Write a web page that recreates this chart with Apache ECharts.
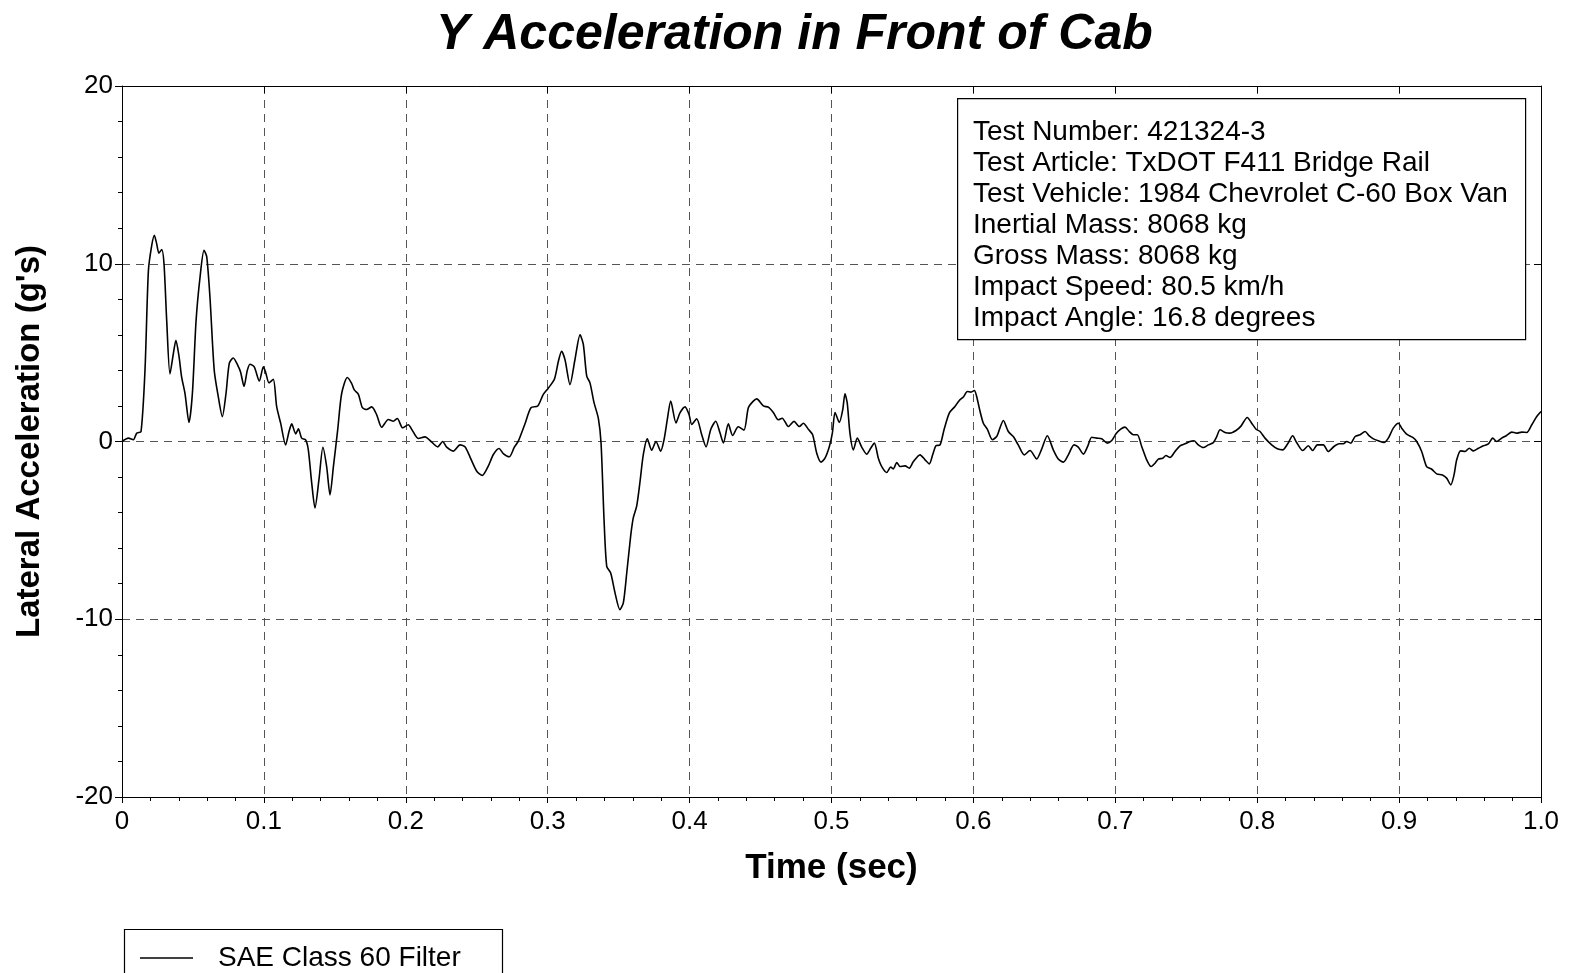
<!DOCTYPE html>
<html>
<head>
<meta charset="utf-8">
<script src="https://cdn.jsdelivr.net/npm/echarts@6/dist/echarts.min.js"></script>
<style>
html,body{margin:0;padding:0;background:#fff;}
#chart{width:1570px;height:973px;}
</style>
</head>
<body>
<div id="chart"></div>
<script>
// ---- data ----
const timeSec = [
0,0.0045,0.008,0.0104,0.0134,0.0162,0.0186,0.0209,0.0228,0.0245,0.026,0.028,0.0296,0.0315,0.0338,0.0362,0.038,0.0402,0.042,0.0444,
0.0472,0.0496,0.0522,0.055,0.0578,0.0597,0.062,0.065,0.0679,0.0707,0.0733,0.0756,0.0784,0.0815,0.0836,0.086,0.0883,0.0902,0.0932,0.0968,
0.0996,0.1012,0.1036,0.1066,0.109,0.1118,0.1153,0.1177,0.1196,0.1224,0.1243,0.1266,0.1294,0.1313,0.1337,0.136,0.1388,0.1416,0.1442,0.1466,
0.149,0.152,0.1548,0.1588,0.1618,0.1637,0.1666,0.1694,0.1724,0.176,0.1795,0.183,0.1877,0.1912,0.194,0.1978,0.2018,0.2042,0.2088,0.2135,
0.2183,0.2225,0.226,0.2288,0.2335,0.2382,0.2417,0.2452,0.25,0.2539,0.2581,0.2617,0.2657,0.2687,0.2729,0.2765,0.2793,0.284,0.2882,0.293,
0.2969,0.3004,0.3047,0.3075,0.3098,0.3122,0.3157,0.3192,0.3228,0.3251,0.3275,0.3298,0.3326,0.3357,0.3376,0.3397,0.3416,0.3444,0.3474,0.3509,
0.3533,0.3557,0.3585,0.3603,0.3627,0.365,0.3674,0.3702,0.3733,0.3763,0.3796,0.382,0.3843,0.3867,0.3904,0.3932,0.3968,0.3996,0.4015,0.405,
0.4085,0.4116,0.4149,0.4184,0.4214,0.4238,0.4273,0.4303,0.4343,0.4383,0.4414,0.4449,0.4473,0.452,0.4555,0.459,0.4625,0.4653,0.4696,0.4736,
0.4773,0.4802,0.4837,0.4867,0.4896,0.4926,0.4954,0.4985,0.5006,0.5025,0.5055,0.5079,0.5095,0.5111,0.513,0.5154,0.5182,0.5213,0.5248,0.5276,
0.5302,0.533,0.5354,0.5389,0.5417,0.5436,0.546,0.5483,0.5518,0.5548,0.5577,0.5624,0.5659,0.5689,0.5713,0.5736,0.5765,0.5793,0.583,0.587,
0.5901,0.5929,0.5957,0.5983,0.6007,0.6023,0.6047,0.607,0.6098,0.6134,0.6164,0.618,0.6211,0.6246,0.6281,0.6316,0.6359,0.6399,0.6446,0.6481,
0.6521,0.6563,0.6598,0.6634,0.6669,0.6709,0.6739,0.6775,0.6805,0.6834,0.6869,0.6904,0.6944,0.6975,0.7005,0.7038,0.7068,0.7099,0.7127,0.7155,
0.7186,0.7221,0.7252,0.728,0.7303,0.7334,0.7357,0.7386,0.7421,0.7456,0.7491,0.7526,0.7555,0.7585,0.762,0.7656,0.7691,0.7715,0.7738,0.7773,
0.7808,0.7851,0.7884,0.793,0.7961,0.7992,0.802,0.8055,0.8102,0.8142,0.818,0.8215,0.825,0.8278,0.8321,0.836,0.8391,0.8424,0.8466,0.8501,
0.8541,0.8577,0.8607,0.8631,0.8659,0.869,0.8725,0.876,0.879,0.8819,0.8854,0.8894,0.8924,0.8959,0.8995,0.9018,0.9053,0.9096,0.9124,0.9159,
0.9194,0.923,0.9265,0.9305,0.9335,0.9364,0.9387,0.9406,0.9434,0.9465,0.9495,0.9523,0.9559,0.9594,0.9629,0.966,0.9688,0.9723,0.9758,0.9794,
0.9829,0.9864,0.99,0.9935,0.997,1.0
];
const lateralAccel = [
0,0.19,0.1,0.47,0.56,4.0,9.6,11.0,11.6,11.1,10.6,10.8,10.0,6.8,3.8,4.95,5.7,4.77,3.64,2.7,
1.07,2.7,6.8,9.25,10.75,10.4,8.1,4.0,2.5,1.4,2.7,4.4,4.7,4.3,3.9,3.1,4.0,4.35,4.2,3.4,
4.2,3.9,3.3,3.5,1.96,1.03,-0.19,0.56,0.99,0.43,0.71,0.19,0.09,-0.47,-2.34,-3.74,-2.15,-0.32,-1.4,-3.0,
-1.4,0.65,2.7,3.6,3.27,2.9,2.65,1.9,1.8,1.95,1.5,0.8,1.24,1.14,1.29,0.77,0.94,0.68,0.17,0.26,
-0.04,-0.3,0,-0.32,-0.54,-0.19,-0.3,-0.86,-1.67,-1.91,-1.39,-0.73,-0.39,-0.68,-0.86,-0.32,0.02,1.0,1.9,2.0,
2.65,3.0,3.5,4.5,5.08,4.6,3.2,4.6,6.0,5.46,3.68,3.3,2.2,1.3,-0.1,-4.39,-7.02,-7.4,-8.5,-9.46,
-9.08,-7.4,-5.3,-4.3,-3.64,-2.3,-0.73,0.15,-0.49,0,-0.54,0.11,1.24,2.27,1.05,1.61,1.95,1.52,0.96,1.28,
0.39,-0.3,0.68,1.14,0.49,-0.08,0.99,0.34,0.83,0.64,1.9,2.27,2.4,2.0,1.93,1.63,1.22,1.31,0.84,1.13,
0.84,1.03,0.69,0.38,-0.66,-1.16,-0.94,-0.28,0.47,1.63,1.07,1.78,2.68,2.16,0.47,-0.47,0.19,-0.32,-0.71,-0.38,
-0.09,-0.94,-1.41,-1.74,-1.44,-1.54,-1.18,-1.41,-1.37,-1.5,-1.13,-0.75,-1.03,-1.26,-0.75,-0.24,-0.19,0.66,1.6,1.97,
2.31,2.5,2.81,2.78,2.87,2.53,1.69,1.03,0.69,0.1,0.28,0.6,1.18,0.56,0.28,-0.19,-0.75,-0.51,-0.98,-0.43,
0.32,-0.47,-0.99,-1.16,-0.75,-0.19,-0.32,-0.71,-0.28,0.24,0.19,0.15,-0.09,0.06,0.43,0.69,0.81,0.56,0.38,0.38,
-0.28,-1.03,-1.41,-1.22,-0.99,-0.94,-0.79,-0.9,-0.56,-0.24,-0.13,0,0.04,-0.19,-0.34,-0.19,-0.06,0.28,0.66,0.51,
0.47,0.62,0.85,1.35,1.03,0.69,0.56,0.19,-0.19,-0.41,-0.47,-0.13,0.32,-0.06,-0.51,-0.24,-0.51,-0.19,-0.19,-0.56,
-0.28,-0.13,-0.13,0,-0.09,0.28,0.38,0.56,0.32,0.15,0.04,-0.06,0.19,0.75,1.03,0.75,0.41,0.23,0,-0.56,
-1.41,-1.56,-1.82,-1.88,-2.06,-2.44,-1.88,-1.03,-0.53,-0.56,-0.38,-0.53,-0.38,-0.24,-0.13,0.19,0,0.19,0.34,0.53,
0.47,0.53,0.51,0.94,1.41,1.69
];
const chartTitle = 'Y Acceleration in Front of Cab';
const xAxisTitle = 'Time (sec)';
const yAxisTitle = "Lateral Acceleration (g's)";
const seriesName = 'SAE Class 60 Filter';
const infoLines = [
  'Test Number: 421324-3',
  'Test Article: TxDOT F411 Bridge Rail',
  'Test Vehicle: 1984 Chevrolet C-60 Box Van',
  'Inertial Mass: 8068 kg',
  'Gross Mass: 8068 kg',
  'Impact Speed: 80.5 km/h',
  'Impact Angle: 16.8 degrees'
];

const points = timeSec.map((t, i) => [t, lateralAccel[i]]);
const FONT = '"Liberation Sans", Arial, sans-serif';
const gridDash = { color: '#555', width: 1, type: [8, 6] };

const chart = echarts.init(document.getElementById('chart'), null, { renderer: 'canvas' });
chart.setOption({
  backgroundColor: '#fff',
  animation: false,
  title: {
    text: chartTitle,
    left: 436,
    top: 10,
    padding: 0,
    textStyle: { fontFamily: FONT, fontSize: 50, fontWeight: 'bold', fontStyle: 'italic', color: '#000' }
  },
  grid: { left: 122, right: 29, top: 86, bottom: 176, show: false },
  legend: {
    data: [{ name: seriesName, icon: 'rect' }],
    left: 140,
    top: 944,
    padding: 0,
    itemWidth: 53,
    itemHeight: 1.6,
    itemGap: 0,
    textStyle: { fontFamily: FONT, fontSize: 28, color: '#000', padding: [0, 0, 0, 20] }
  },
  xAxis: [{
    type: 'value', min: 0, max: 1, interval: 0.1,
    position: 'bottom',
    name: xAxisTitle, nameLocation: 'middle', nameGap: 54,
    nameTextStyle: { fontFamily: FONT, fontSize: 35, fontWeight: 'bold', color: '#000' },
    axisLine: { show: true, onZero: false, lineStyle: { color: '#000', width: 1 } },
    axisTick: { show: true, inside: false, length: 6, lineStyle: { color: '#000' } },
    minorTick: { show: true, splitNumber: 5, length: 4, lineStyle: { color: '#000' } },
    axisLabel: { fontFamily: FONT, fontSize: 26, color: '#000', margin: 12,
      formatter: v => (v === 0 ? '0' : v.toFixed(1)) },
    splitLine: { show: true, lineStyle: gridDash }
  }, {
    type: 'value', min: 0, max: 1, interval: 0.1,
    position: 'top',
    axisLine: { show: true, onZero: false, lineStyle: { color: '#000', width: 1 } },
    axisTick: { show: true, inside: true, length: 7, lineStyle: { color: '#000' } },
    axisLabel: { show: false },
    splitLine: { show: false }
  }],
  yAxis: [{
    type: 'value', min: -20, max: 20, interval: 10,
    position: 'left',
    name: yAxisTitle, nameLocation: 'middle', nameGap: 76, nameRotate: 90,
    nameTextStyle: { fontFamily: FONT, fontSize: 33, fontWeight: 'bold', color: '#000' },
    axisLine: { show: true, onZero: false, lineStyle: { color: '#000', width: 1 } },
    axisTick: { show: true, inside: false, length: 7, lineStyle: { color: '#000' } },
    minorTick: { show: true, splitNumber: 5, length: 4, lineStyle: { color: '#000' } },
    axisLabel: { fontFamily: FONT, fontSize: 26, color: '#000', margin: 9 },
    splitLine: { show: true, lineStyle: gridDash }
  }, {
    type: 'value', min: -20, max: 20, interval: 10,
    position: 'right',
    axisLine: { show: true, onZero: false, lineStyle: { color: '#000', width: 1 } },
    axisTick: { show: true, inside: true, length: 7, lineStyle: { color: '#000' } },
    axisLabel: { show: false },
    splitLine: { show: false }
  }],
  series: [{
    name: seriesName,
    type: 'line',
    xAxisIndex: 0,
    yAxisIndex: 0,
    data: points,
    smooth: 0.25,
    symbol: 'none',
    showSymbol: false,
    lineStyle: { color: '#000', width: 1.6 },
    itemStyle: { color: '#000' },
    z: 5
  }],
  graphic: [
    {
      type: 'rect', left: 957, top: 98, z: 10,
      shape: { width: 568, height: 241 },
      style: { fill: '#fff', stroke: '#000', lineWidth: 1.2 }
    },
    {
      type: 'text', left: 973, top: 117, z: 11,
      style: {
        text: infoLines.join('\n'),
        font: '28px ' + FONT,
        lineHeight: 31,
        fill: '#000'
      }
    },
    {
      type: 'rect', left: 122, top: 927, z: 10,
      shape: { width: 378, height: 70 },
      style: { fill: 'none', stroke: '#000', lineWidth: 1.2 }
    }
  ]
});
</script>
</body>
</html>
